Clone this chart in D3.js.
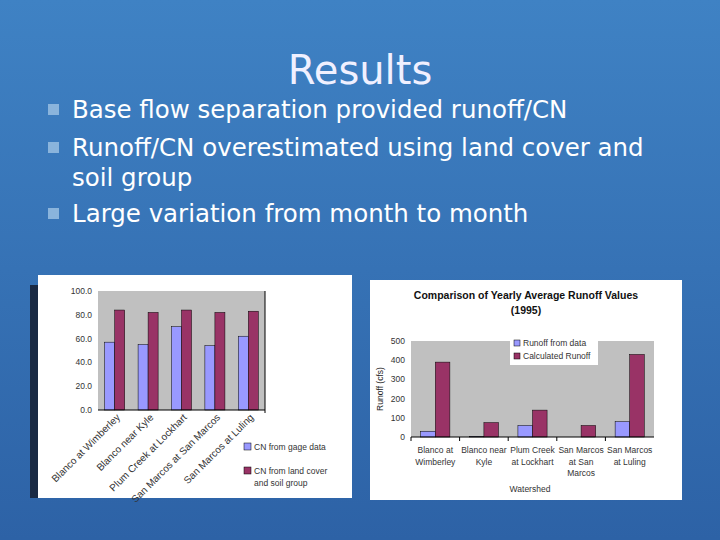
<!DOCTYPE html><html><head><meta charset="utf-8">
<script src="https://cdn.jsdelivr.net/npm/d3@7"></script>
<style>body{margin:0}svg{display:block}</style></head><body>
<script>
const bullets=["Base flow separation provided runoff/CN","Runoff/CN overestimated using land cover and","soil group","Large variation from month to month"];
const cats1=["Blanco at Wimberley","Blanco near Kyle","Plum Creek at Lockhart","San Marcos at San Marcos","San Marcos at Luling"];
const cnGage=[57,55,70,54,62];
const cnLand=[84,82,84,82,83];
const ticks1=[0,20,40,60,80,100];
const cats2=[["Blanco at","Wimberley"],["Blanco near","Kyle"],["Plum Creek","at Lockhart"],["San Marcos","at San","Marcos"],["San Marcos","at Luling"]];
const runData=[30,3,60,0,80];
const runCalc=[390,75,140,60,430];
const ticks2=[0,100,200,300,400,500];
const c1="#9999ff",c2="#993366";

const svg=d3.select("body").append("svg").attr("width",720).attr("height",540);
const g=svg.append("defs").append("linearGradient").attr("id","bg").attr("x1",0).attr("y1",0).attr("x2",0).attr("y2",1);
g.append("stop").attr("offset",0).attr("stop-color","#3f82c4");
g.append("stop").attr("offset",1).attr("stop-color","#2d62a6");
svg.append("rect").attr("width",720).attr("height",540).attr("fill","url(#bg)");
svg.append("text").attr("x",360).attr("y",84).attr("text-anchor","middle").attr("font-family","DejaVu Sans").attr("font-size",40).attr("fill","#f0f0ff").text("Results");
const by=[118,156,186,222];
bullets.forEach((b,i)=>{
  svg.append("text").attr("x",72).attr("y",by[i]).attr("font-family","DejaVu Sans").attr("font-size",24).attr("textLength",null).attr("fill","#fff").text(b).attr("transform",`translate(72,0) scale(1.02,1) translate(-72,0)`);
  if(i!==2) svg.append("rect").attr("x",48).attr("y",by[i]-14).attr("width",11).attr("height",11).attr("fill","#8ab4dc");
});

// left chart
svg.append("rect").attr("x",38).attr("y",275).attr("width",314).attr("height",223).attr("fill","#fff");
svg.append("rect").attr("x",30).attr("y",285).attr("width",8).attr("height",213).attr("fill","#1a2a44");
const x1=d3.scaleBand().domain(cats1).range([98,265]).paddingInner(0.4).paddingOuter(0.2);
const y1=d3.scaleLinear().domain([0,100]).range([410,291]);
const L=svg.append("g").attr("font-family","Liberation Sans").attr("font-size",8.5);
L.append("rect").attr("x",98).attr("y",291).attr("width",167).attr("height",119).attr("fill","#c0c0c0");
cats1.forEach((c,i)=>{
  const w=x1.bandwidth()/2;
  L.append("rect").attr("x",x1(c)).attr("y",y1(cnGage[i])).attr("width",w).attr("height",410-y1(cnGage[i])).attr("fill",c1).attr("stroke","#000").attr("stroke-width",0.5);
  L.append("rect").attr("x",x1(c)+w).attr("y",y1(cnLand[i])).attr("width",w).attr("height",410-y1(cnLand[i])).attr("fill",c2).attr("stroke","#000").attr("stroke-width",0.5);
  L.append("text").attr("transform",`translate(${x1(c)+w+6},418) rotate(-45)`).attr("text-anchor","end").attr("font-size",10).attr("fill","#333").text(c);
});
L.append("line").attr("x1",98).attr("x2",265).attr("y1",410).attr("y2",410).attr("stroke","#000");
L.append("line").attr("x1",265).attr("x2",265).attr("y1",291).attr("y2",413).attr("stroke","#000");
ticks1.forEach(t=>L.append("text").attr("x",92).attr("y",y1(t)+3).attr("text-anchor","end").attr("fill","#333").text(t.toFixed(1)));
L.append("rect").attr("x",244).attr("y",443).attr("width",7).attr("height",7).attr("fill",c1).attr("stroke","#000").attr("stroke-width",0.5);
L.append("text").attr("x",254).attr("y",450).attr("fill","#333").text("CN from gage data");
L.append("rect").attr("x",244).attr("y",467).attr("width",7).attr("height",7).attr("fill",c2).attr("stroke","#000").attr("stroke-width",0.5);
L.append("text").attr("x",254).attr("y",474).attr("fill","#333").text("CN from land cover");
L.append("text").attr("x",254).attr("y",486).attr("fill","#333").text("and soil group");

// right chart
svg.append("rect").attr("x",370).attr("y",280).attr("width",312).attr("height",220).attr("fill","#fff");
const x2=d3.scaleBand().domain(d3.range(5)).range([411,654]);
const y2=d3.scaleLinear().domain([0,500]).range([437,341]);
const R=svg.append("g").attr("font-family","Liberation Sans").attr("font-size",8.5);
R.append("text").attr("x",526).attr("y",299).attr("text-anchor","middle").attr("font-weight","bold").attr("font-size",10.5).attr("fill","#111").text("Comparison of Yearly Average Runoff Values");
R.append("text").attr("x",526).attr("y",314).attr("text-anchor","middle").attr("font-weight","bold").attr("font-size",10.5).attr("fill","#111").text("(1995)");
R.append("rect").attr("x",411).attr("y",341).attr("width",243).attr("height",96).attr("fill","#c0c0c0");
d3.range(5).forEach(i=>{
  const bw=x2.bandwidth(),w=bw*0.3,x0=x2(i)+bw*0.2;
  R.append("rect").attr("x",x0).attr("y",y2(runData[i])).attr("width",w).attr("height",437-y2(runData[i])).attr("fill",c1).attr("stroke","#000").attr("stroke-width",0.5);
  R.append("rect").attr("x",x0+w).attr("y",y2(runCalc[i])).attr("width",w).attr("height",437-y2(runCalc[i])).attr("fill",c2).attr("stroke","#000").attr("stroke-width",0.5);
  cats2[i].forEach((s,k)=>R.append("text").attr("x",x2(i)+bw/2).attr("y",453+k*11.5).attr("text-anchor","middle").attr("fill","#333").text(s));
  R.append("line").attr("x1",x2(i)).attr("x2",x2(i)).attr("y1",437).attr("y2",441).attr("stroke","#000");
});
R.append("line").attr("x1",411).attr("x2",654).attr("y1",437).attr("y2",437).attr("stroke","#000");
ticks2.forEach(t=>R.append("text").attr("x",405).attr("y",y2(t)+3).attr("text-anchor","end").attr("fill","#333").text(t));
R.append("text").attr("transform","translate(383,389) rotate(-90)").attr("text-anchor","middle").attr("fill","#222").text("Runoff (cfs)");
R.append("text").attr("x",530).attr("y",492).attr("text-anchor","middle").attr("fill","#333").text("Watershed");
R.append("rect").attr("x",510).attr("y",341).attr("width",88).attr("height",24).attr("fill","#fff");
R.append("rect").attr("x",514).attr("y",340).attr("width",6).attr("height",6).attr("fill",c1).attr("stroke","#000").attr("stroke-width",0.5);
R.append("text").attr("x",523).attr("y",346).attr("fill","#333").text("Runoff from data");
R.append("rect").attr("x",514).attr("y",353).attr("width",6).attr("height",6).attr("fill",c2).attr("stroke","#000").attr("stroke-width",0.5);
R.append("text").attr("x",523).attr("y",359).attr("fill","#333").text("Calculated Runoff");
</script></body></html>
